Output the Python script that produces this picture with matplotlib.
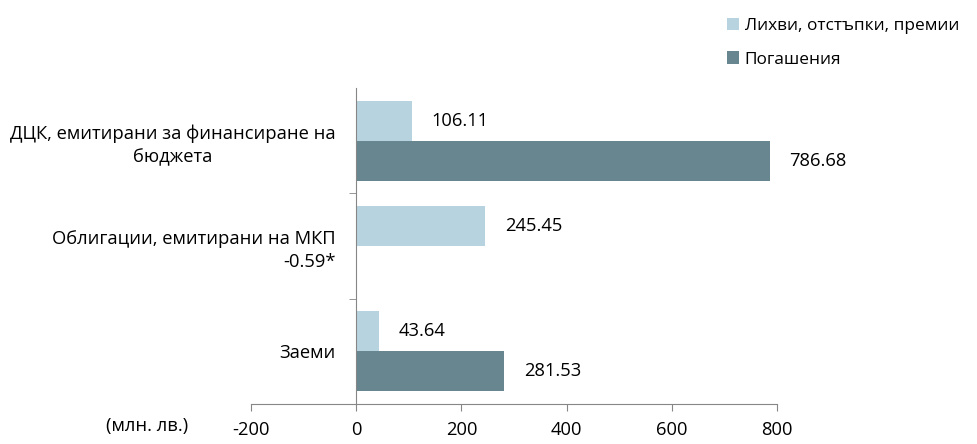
import matplotlib
matplotlib.use("Agg")
import matplotlib.pyplot as plt
import numpy as np

plt.rcParams['font.family'] = ['Open Sans', 'DejaVu Sans']
plt.rcParams['axes.unicode_minus'] = False

categories = ['ДЦК, емитирани за финансиране на\nбюджета',
              'Облигации, емитирани на МКП\n-0.59*',
              'Заеми']
interest = [106.11, 245.45, 43.64]
repay = [786.68, -0.59, 281.53]
interest_labels = ['106.11', '245.45', '43.64']
repay_labels = ['786.68', '', '281.53']
series_names = ['Лихви, отстъпки, премии', 'Погашения']

light = '#B7D3DF'
dark = '#67868F'
grey = '#868686'
fs = 13.2

fig = plt.figure(figsize=(9.78, 4.44), dpi=100)
ax = fig.add_axes([0.2566, 0.0901, 0.5379, 0.7117])

y = np.arange(len(categories))
h = 0.38
b1 = ax.barh(y - h / 2, interest, height=h, color=light, label=series_names[0])
b2 = ax.barh(y + h / 2, repay, height=h, color=dark, label=series_names[1])

for bar, txt in zip(b1, interest_labels):
    ax.annotate(txt, (bar.get_width(), bar.get_y() + bar.get_height() / 2),
                xytext=(14, 0), textcoords='offset points', va='center', fontsize=fs)
for bar, txt in zip(b2, repay_labels):
    if txt:
        ax.annotate(txt, (bar.get_width(), bar.get_y() + bar.get_height() / 2),
                    xytext=(14, 0), textcoords='offset points', va='center', fontsize=fs)

ax.set_xlim(-200, 800)
ax.set_ylim(2.5, -0.5)
ax.set_xticks([-200, 0, 200, 400, 600, 800])
ax.tick_params(axis='x', length=5, color=grey, labelsize=fs, pad=7)

ax.spines['top'].set_visible(False)
ax.spines['right'].set_visible(False)
ax.spines['left'].set_position(('data', 0))
ax.spines['left'].set_color(grey)
ax.spines['bottom'].set_color(grey)

ax.set_yticks(y)
ax.set_yticklabels(categories, fontsize=fs, linespacing=1.35)
ax.tick_params(axis='y', which='major', length=0, pad=15)
ax.set_yticks([0.5, 1.5], minor=True)
ax.tick_params(axis='y', which='minor', length=5, color=grey)
lbls = ax.get_yticklabels()
lbls[0].set_multialignment('center')
lbls[1].set_multialignment('right')

fig.text(0.108, 0.03, '(млн. лв.)', fontsize=fs)

fig.legend(handles=[b1, b2], loc='upper left', bbox_to_anchor=(0.727, 0.995),
           frameon=False, fontsize=12.4, handlelength=0.75, handleheight=0.75,
           handletextpad=0.3, labelspacing=1.0)

fig.savefig('out.png', dpi=100)
